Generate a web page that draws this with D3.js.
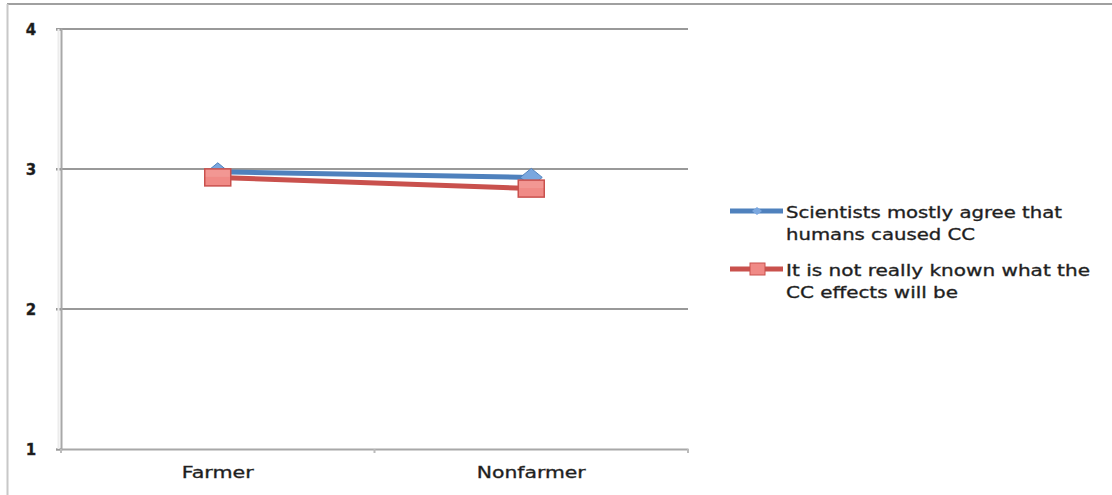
<!DOCTYPE html>
<html><head><meta charset="utf-8">
<script src="https://cdn.jsdelivr.net/npm/d3@7"></script>
<style>body{margin:0;background:#fff}svg{display:block}</style>
</head><body>
<svg id="c" width="1112" height="495"></svg>
<script>
const categories = ["Farmer", "Nonfarmer"];
const seriesNames = ["Scientists mostly agree that|humans caused CC", "It is not really known what the|CC effects will be"];
const scientistsAgree = [2.98, 2.94];
const notKnown = [2.94, 2.86];
const yTicks = [1, 2, 3, 4];

const svg = d3.select("#c");
const W = 1112, H = 495;
const m = {left: 61, right: 688, top: 29, bottom: 449};

// outer border
svg.append("line").attr("x1", 7).attr("x2", W).attr("y1", 4).attr("y2", 4).attr("stroke", "#a0a0a0").attr("stroke-width", 2);
svg.append("line").attr("x1", 7.5).attr("x2", 7.5).attr("y1", 4).attr("y2", H).attr("stroke", "#c8c8c8").attr("stroke-width", 2);

const x = d3.scaleBand().domain(categories).range([m.left, m.right]);
const y = d3.scaleLinear().domain([1, 4]).range([m.bottom, m.top]);

// gridlines
svg.append("g").selectAll("line").data(yTicks.slice(1)).join("line")
  .attr("x1", m.left - 5).attr("x2", m.right).attr("y1", d => y(d)).attr("y2", d => y(d))
  .attr("stroke", "#999").attr("stroke-width", 2);

const textStyle = sel => sel.attr("font-family", "DejaVu Sans, sans-serif").attr("fill", "#1a1a1a")
  .attr("stroke", "#333").attr("stroke-width", 0.35);

// y axis
const ya = svg.append("g").attr("transform", `translate(${m.left},0)`)
  .call(d3.axisLeft(y).tickValues(yTicks).tickSize(5).tickFormat(d3.format("d")));
ya.select(".domain").attr("stroke", "#a8a8a8").attr("stroke-width", 2);
ya.selectAll(".tick line").attr("stroke", "#999").attr("stroke-width", 2);
ya.selectAll(".tick text").attr("x", -30).attr("dy", "0.35em").attr("font-size", 15).attr("text-anchor", "middle").attr("font-weight", "bold").call(textStyle);
// light shading beside y axis
svg.append("line").attr("x1", m.left - 2.5).attr("x2", m.left - 2.5).attr("y1", m.top).attr("y2", m.bottom).attr("stroke", "#ececec").attr("stroke-width", 2);

// x axis
const xa = svg.append("g").attr("transform", `translate(0,${m.bottom})`)
  .call(d3.axisBottom(x).tickSize(0).tickPadding(18));
xa.select(".domain").attr("stroke", "#a8a8a8").attr("stroke-width", 2);
xa.selectAll(".tick text").attr("font-size", 15).call(textStyle)
  .attr("textLength", (d, i) => [72, 109][i]).attr("lengthAdjust", "spacingAndGlyphs");
const xEdges = [m.left, ...categories.slice(1).map(c => x(c)), m.right];
svg.append("g").selectAll("line").data(xEdges).join("line")
  .attr("x1", d => d).attr("x2", d => d).attr("y1", m.bottom).attr("y2", m.bottom + 4)
  .attr("stroke", "#bbb").attr("stroke-width", 2);

const cx = c => x(c) + x.bandwidth() / 2;
const series = [
  {name: seriesNames[0], values: scientistsAgree, color: "#4f81bd", light: "#7aa7df", marker: "diamond"},
  {name: seriesNames[1], values: notKnown, color: "#c9514d", light: "#f08a86", marker: "square"}
];

const line = d3.line().x(d => cx(d.c)).y(d => y(d.v));
function drawMarker(g, type, s, px, py) {
  if (type === "diamond") {
    g.append("path").attr("d", `M${px},${py - 9}L${px + 11},${py}L${px},${py + 9}L${px - 11},${py}Z`)
      .attr("fill", s.light).attr("stroke", s.color).attr("stroke-width", 1);
  } else {
    g.append("rect").attr("x", px - 13).attr("y", py - 8.5).attr("width", 26).attr("height", 17)
      .attr("fill", s.light).attr("stroke", s.color).attr("stroke-width", 1.5);
    g.append("rect").attr("x", px - 12).attr("y", py - 7.5).attr("width", 24).attr("height", 7)
      .attr("fill", "#f4a09c").attr("opacity", 0.6);
  }
}
series.forEach(s => {
  const pts = categories.map((c, i) => ({c, v: s.values[i]}));
  svg.append("path").datum(pts).attr("d", line).attr("fill", "none")
    .attr("stroke", s.color).attr("stroke-width", 5);
});
series.forEach(s => {
  const g = svg.append("g");
  categories.forEach((c, i) => drawMarker(g, s.marker, s, cx(c), y(s.values[i])));
});

// legend
const legY = [211, 269];
series.forEach((s, i) => {
  const g = svg.append("g");
  g.append("line").attr("x1", 730).attr("x2", 783).attr("y1", legY[i]).attr("y2", legY[i]).attr("stroke", s.color).attr("stroke-width", 5);
  if (s.marker === "diamond") {
    g.append("path").attr("d", `M757,${legY[i] - 4}L762,${legY[i]}L757,${legY[i] + 4}L752,${legY[i]}Z`).attr("fill", s.light);
  } else {
    g.append("rect").attr("x", 750).attr("y", legY[i] - 6).attr("width", 15).attr("height", 12).attr("fill", s.light).attr("stroke", s.color);
  }
  const lines = s.name.split("|");
  const widths = [i === 0 ? 276 : 304, i === 0 ? 189 : 172];
  lines.forEach((t, k) => {
    g.append("text").attr("x", 786).attr("y", legY[i] + 7 + k * 22).text(t)
      .attr("font-size", 15).call(textStyle)
      .attr("textLength", widths[k]).attr("lengthAdjust", "spacingAndGlyphs");
  });
});
</script>
</body></html>
